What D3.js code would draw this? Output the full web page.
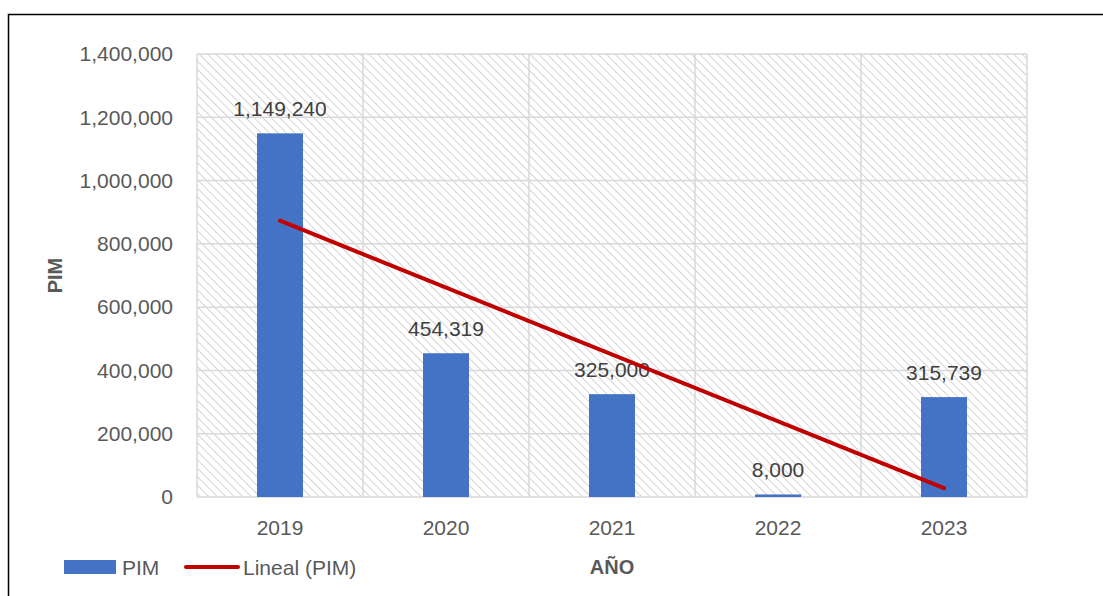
<!DOCTYPE html>
<html>
<head>
<meta charset="utf-8">
<script src="https://cdn.jsdelivr.net/npm/d3@7"></script>
<style>
  body { margin: 0; background: #fff; }
  text { font-family: "Liberation Sans", Arial, sans-serif; fill: #595959; }
</style>
</head>
<body>
<script>
const years = ["2019", "2020", "2021", "2022", "2023"];
const pim = [1149240, 454319, 325000, 8000, 315739];
const yTicks = [0, 200000, 400000, 600000, 800000, 1000000, 1200000, 1400000];

const width = 1103, height = 596;
const margin = {top: 54, right: 76, bottom: 99, left: 197};

const svg = d3.select("body").append("svg")
    .attr("width", width)
    .attr("height", height);

// hatch for the plot area
const defs = svg.append("defs");
defs.append("pattern")
    .attr("id", "hatch")
    .attr("patternUnits", "userSpaceOnUse")
    .attr("width", 6).attr("height", 6)
    .attr("patternTransform", "rotate(-45)")
  .append("line")
    .attr("x1", 0).attr("y1", 0).attr("x2", 0).attr("y2", 6)
    .attr("stroke", "#d4d4d4").attr("stroke-width", 2);

// outer frame (only top and left visible)
svg.append("path")
    .attr("d", "M8.5,596 L8.5,14.5 L1103,14.5")
    .attr("fill", "none").attr("stroke", "#000").attr("stroke-width", 1.5);

const x = d3.scaleBand()
    .domain(years)
    .range([margin.left, width - margin.right])
    .paddingInner(0).paddingOuter(0);

const y = d3.scaleLinear()
    .domain([0, 1400000])
    .range([height - margin.bottom, margin.top]);

svg.append("rect")
    .attr("x", margin.left).attr("y", margin.top)
    .attr("width", width - margin.left - margin.right)
    .attr("height", height - margin.top - margin.bottom)
    .attr("fill", "url(#hatch)");

// gridlines
svg.append("g").selectAll("line")
    .data(yTicks).enter().append("line")
    .attr("x1", margin.left).attr("x2", width - margin.right)
    .attr("y1", d => y(d)).attr("y2", d => y(d))
    .attr("stroke", "#d9d9d9").attr("stroke-width", 1.5);

svg.append("g").selectAll("line")
    .data(years.concat(["end"])).enter().append("line")
    .attr("x1", d => d === "end" ? x.range()[1] : x(d))
    .attr("x2", d => d === "end" ? x.range()[1] : x(d))
    .attr("y1", margin.top).attr("y2", height - margin.bottom)
    .attr("stroke", "#d9d9d9").attr("stroke-width", 1.5);

// y axis labels
const fmt = d3.format(",");
svg.append("g").selectAll("text")
    .data(yTicks).enter().append("text")
    .attr("x", margin.left - 24)
    .attr("y", d => y(d))
    .attr("dy", "0.35em")
    .attr("text-anchor", "end")
    .attr("font-size", 21)
    .text(d => fmt(d));

// x axis labels
svg.append("g").selectAll("text")
    .data(years).enter().append("text")
    .attr("x", d => x(d) + x.bandwidth() / 2)
    .attr("y", height - margin.bottom + 38)
    .attr("text-anchor", "middle")
    .attr("font-size", 21)
    .text(d => d);

// bars
const barW = 46;
svg.append("g").selectAll("rect")
    .data(pim).enter().append("rect")
    .attr("x", (d, i) => x(years[i]) + x.bandwidth() / 2 - barW / 2)
    .attr("y", d => y(d))
    .attr("width", barW)
    .attr("height", d => y(0) - y(d))
    .attr("fill", "#4472c4");

// data labels
svg.append("g").selectAll("text")
    .data(pim).enter().append("text")
    .attr("x", (d, i) => x(years[i]) + x.bandwidth() / 2)
    .attr("y", d => y(d) - 17)
    .attr("text-anchor", "middle")
    .attr("font-size", 21)
    .style("fill", "#404040")
    .text(d => fmt(d));

// linear trend (least squares)
const xs = pim.map((d, i) => i + 1);
const mx = d3.mean(xs), my = d3.mean(pim);
const slope = d3.sum(xs, (v, i) => (v - mx) * (pim[i] - my)) / d3.sum(xs, v => (v - mx) * (v - mx));
const icpt = my - slope * mx;
const trend = [1, 5].map(v => [x(years[v - 1]) + x.bandwidth() / 2, y(icpt + slope * v)]);
svg.append("path")
    .attr("d", d3.line()(trend))
    .attr("stroke", "#c00000").attr("stroke-width", 4)
    .attr("stroke-linecap", "round")
    .attr("fill", "none");

// axis titles
svg.append("text")
    .attr("transform", "translate(62," + ((margin.top + height - margin.bottom) / 2) + ") rotate(-90)")
    .attr("text-anchor", "middle")
    .attr("font-size", 20)
    .attr("font-weight", "bold")
    .text("PIM");

svg.append("text")
    .attr("x", (margin.left + width - margin.right) / 2)
    .attr("y", 574)
    .attr("text-anchor", "middle")
    .attr("font-size", 20)
    .attr("font-weight", "bold")
    .text("AÑO");

// legend
const lg = svg.append("g");
lg.append("rect")
    .attr("x", 64).attr("y", 560).attr("width", 52).attr("height", 14)
    .attr("fill", "#4472c4");
lg.append("text")
    .attr("x", 122).attr("y", 575)
    .attr("font-size", 21)
    .text("PIM");
lg.append("line")
    .attr("x1", 186).attr("x2", 238).attr("y1", 567).attr("y2", 567)
    .attr("stroke", "#c00000").attr("stroke-width", 4).attr("stroke-linecap", "round");
lg.append("text")
    .attr("x", 243).attr("y", 575)
    .attr("font-size", 21)
    .text("Lineal (PIM)");
</script>
</body>
</html>
